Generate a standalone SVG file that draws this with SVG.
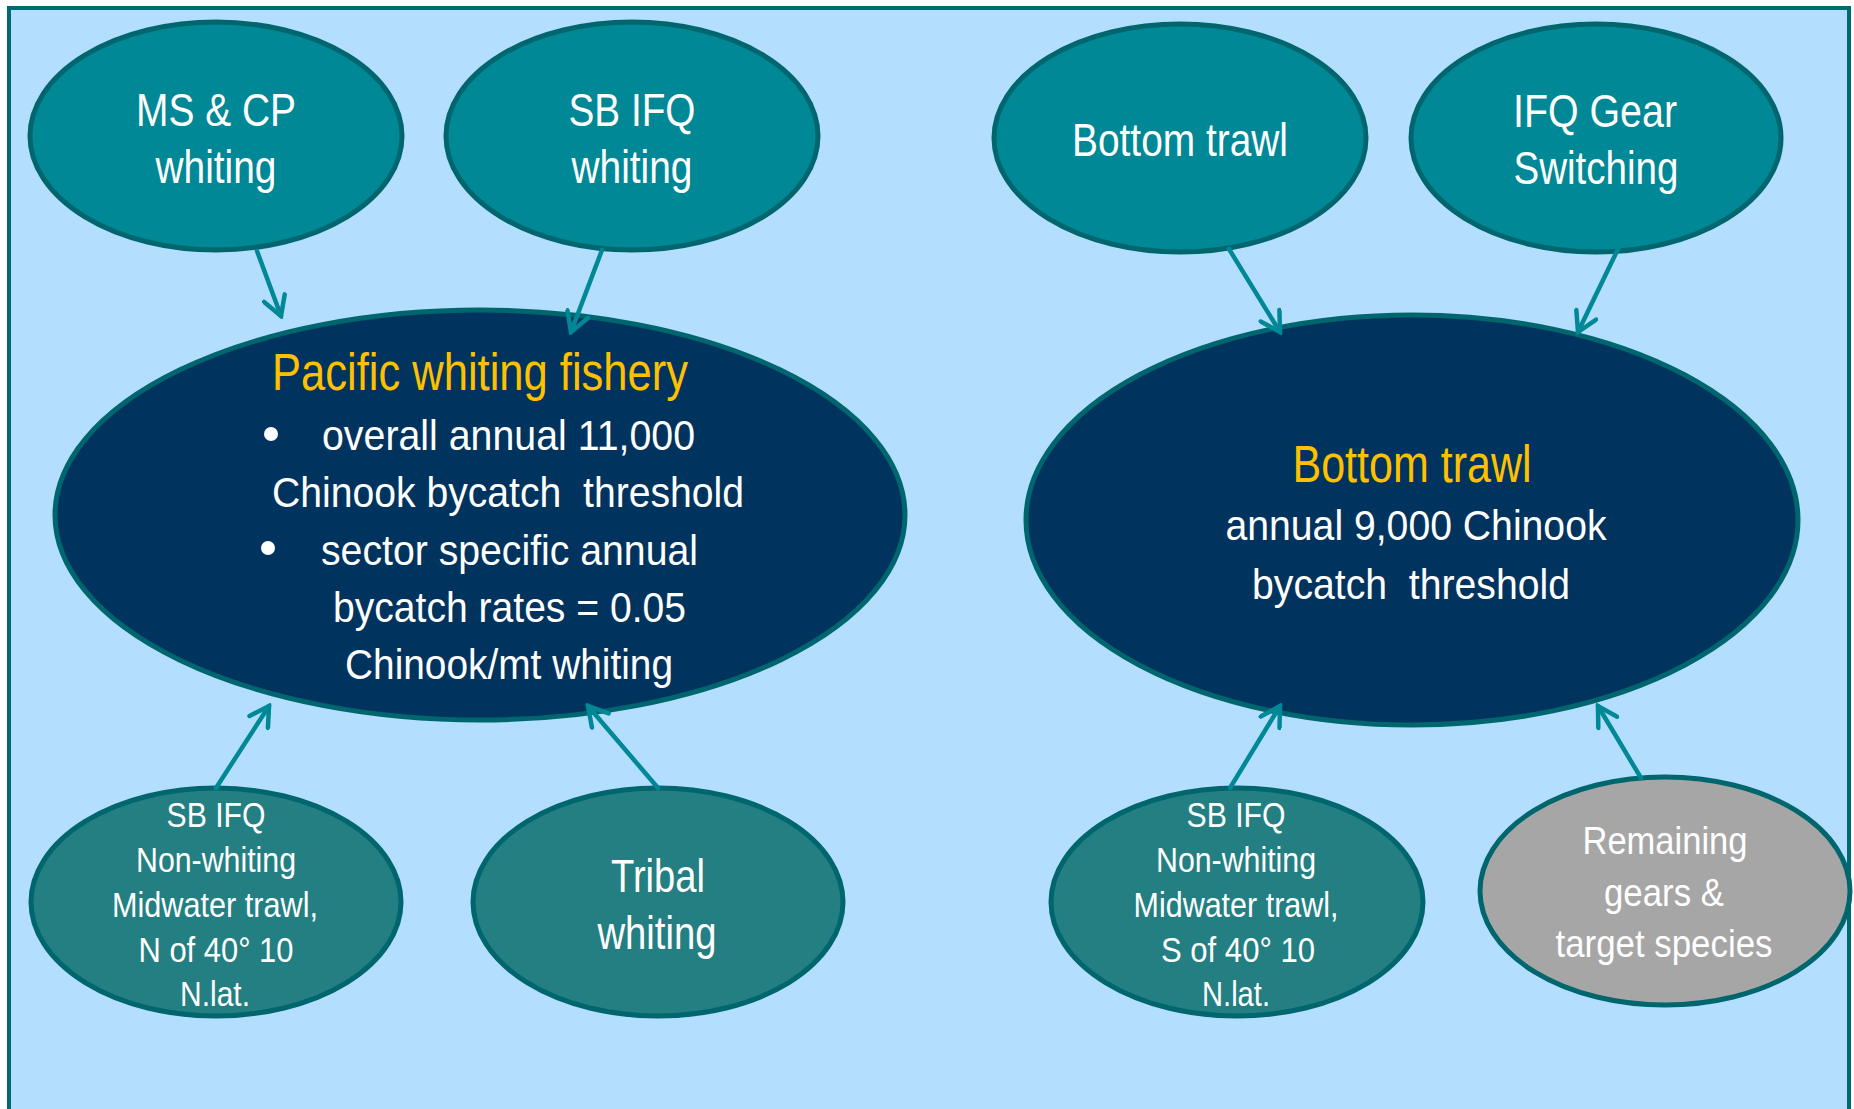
<svg xmlns="http://www.w3.org/2000/svg" width="1854" height="1109" viewBox="0 0 1854 1109">
<style>
  .bg { fill: #B3DEFE; stroke: #006A72; stroke-width: 4; }
  .top { fill: #008896; stroke: #00666E; stroke-width: 5; }
  .low { fill: #237F82; stroke: #00666E; stroke-width: 5; }
  .main { fill: #00345E; stroke: #00666E; stroke-width: 5; }
  .gray { fill: #A6A6A6; stroke: #00666E; stroke-width: 5; }
  text { font-family: "Liberation Sans", Arial, sans-serif; fill: #FFFFFF; }
  .c { text-anchor: middle; }
  .t46 { font-size: 47px; }
  .t50 { font-size: 51px; fill: #FFC000; }
  .t42 { font-size: 42px; }
  .t35 { font-size: 35px; }
  .t39 { font-size: 39px; }
  .conn line { stroke: #008896; stroke-width: 4.5; stroke-linecap: round; marker-end: url(#arr); }
</style>
<defs>
  <marker id="arr" viewBox="0 0 26 26" refX="23" refY="13" markerWidth="26" markerHeight="26" markerUnits="userSpaceOnUse" orient="auto">
    <path d="M4,2 L23,13 L4,24" fill="none" stroke="#008896" stroke-width="4.5" stroke-linecap="round" stroke-linejoin="miter"/>
  </marker>
</defs>
<rect class="bg" x="9" y="8" width="1840" height="1115"/>

<g id="ms-cp-whiting">
  <ellipse class="top" cx="216" cy="136" rx="186" ry="114"/>
  <text class="c t46" x="216" y="126" textLength="160" lengthAdjust="spacingAndGlyphs">MS &amp; CP</text>
  <text class="c t46" x="216" y="183" textLength="121" lengthAdjust="spacingAndGlyphs">whiting</text>
</g>
<g id="sb-ifq-whiting">
  <ellipse class="top" cx="632" cy="136" rx="186" ry="114"/>
  <text class="c t46" x="632" y="126" textLength="127" lengthAdjust="spacingAndGlyphs">SB IFQ</text>
  <text class="c t46" x="632" y="183" textLength="121" lengthAdjust="spacingAndGlyphs">whiting</text>
</g>
<g id="bottom-trawl-top">
  <ellipse class="top" cx="1180" cy="138" rx="186" ry="114"/>
  <text class="c t46" x="1180" y="156" textLength="216" lengthAdjust="spacingAndGlyphs">Bottom trawl</text>
</g>
<g id="ifq-gear-switching">
  <ellipse class="top" cx="1596" cy="138" rx="185" ry="114"/>
  <text class="c t46" x="1595" y="127" textLength="164" lengthAdjust="spacingAndGlyphs">IFQ Gear</text>
  <text class="c t46" x="1596" y="184" textLength="165" lengthAdjust="spacingAndGlyphs">Switching</text>
</g>

<g id="pacific-whiting-fishery">
  <ellipse class="main" cx="480" cy="515" rx="425" ry="205"/>
  <text class="c t50" x="480" y="390" textLength="416" lengthAdjust="spacingAndGlyphs">Pacific whiting fishery</text>
  <circle cx="271" cy="434" r="7" fill="#FFFFFF"/>
  <text class="t42" x="322" y="450" textLength="373" lengthAdjust="spacingAndGlyphs">overall annual 11,000</text>
  <text class="t42" x="272" y="507" textLength="472" lengthAdjust="spacingAndGlyphs" xml:space="preserve">Chinook bycatch  threshold</text>
  <circle cx="268" cy="548" r="7" fill="#FFFFFF"/>
  <text class="t42" x="321" y="565" textLength="377" lengthAdjust="spacingAndGlyphs">sector specific annual</text>
  <text class="t42" x="333" y="622" textLength="353" lengthAdjust="spacingAndGlyphs">bycatch rates = 0.05</text>
  <text class="t42" x="345" y="679" textLength="328" lengthAdjust="spacingAndGlyphs">Chinook/mt whiting</text>
</g>

<g id="bottom-trawl-main">
  <ellipse class="main" cx="1412" cy="520" rx="386" ry="205"/>
  <text class="c t50" x="1412" y="482" textLength="239" lengthAdjust="spacingAndGlyphs">Bottom trawl</text>
  <text class="c t42" x="1416" y="540" textLength="381" lengthAdjust="spacingAndGlyphs">annual 9,000 Chinook</text>
  <text class="c t42" x="1411" y="599" textLength="318" lengthAdjust="spacingAndGlyphs" xml:space="preserve">bycatch  threshold</text>
</g>

<g id="sb-ifq-nonwhiting-n">
  <ellipse class="low" cx="216" cy="902" rx="185" ry="114"/>
  <text class="c t35" x="216" y="827" textLength="99" lengthAdjust="spacingAndGlyphs">SB IFQ</text>
  <text class="c t35" x="216" y="872" textLength="160" lengthAdjust="spacingAndGlyphs">Non-whiting</text>
  <text class="c t35" x="215" y="917" textLength="206" lengthAdjust="spacingAndGlyphs">Midwater trawl,</text>
  <text class="c t35" x="216" y="962" textLength="155" lengthAdjust="spacingAndGlyphs">N of 40° 10</text>
  <text class="c t35" x="215" y="1006" textLength="70" lengthAdjust="spacingAndGlyphs">N.lat.</text>
</g>
<g id="tribal-whiting">
  <ellipse class="low" cx="658" cy="902" rx="185" ry="114"/>
  <text class="c t46" x="658" y="892" textLength="94" lengthAdjust="spacingAndGlyphs">Tribal</text>
  <text class="c t46" x="657" y="949" textLength="119" lengthAdjust="spacingAndGlyphs">whiting</text>
</g>
<g id="sb-ifq-nonwhiting-s">
  <ellipse class="low" cx="1237" cy="902" rx="186" ry="114"/>
  <text class="c t35" x="1236" y="827" textLength="99" lengthAdjust="spacingAndGlyphs">SB IFQ</text>
  <text class="c t35" x="1236" y="872" textLength="160" lengthAdjust="spacingAndGlyphs">Non-whiting</text>
  <text class="c t35" x="1236" y="917" textLength="205" lengthAdjust="spacingAndGlyphs">Midwater trawl,</text>
  <text class="c t35" x="1238" y="962" textLength="154" lengthAdjust="spacingAndGlyphs">S of 40° 10</text>
  <text class="c t35" x="1236" y="1006" textLength="68" lengthAdjust="spacingAndGlyphs">N.lat.</text>
</g>
<g id="remaining-gears">
  <ellipse class="gray" cx="1665" cy="891" rx="185" ry="114"/>
  <text class="c t39" x="1665" y="854" textLength="165" lengthAdjust="spacingAndGlyphs">Remaining</text>
  <text class="c t39" x="1664" y="906" textLength="120" lengthAdjust="spacingAndGlyphs">gears &amp;</text>
  <text class="c t39" x="1664" y="957" textLength="217" lengthAdjust="spacingAndGlyphs">target species</text>
</g>

<g id="connectors" class="conn">
  <line x1="257" y1="251" x2="281" y2="316"/>
  <line x1="602" y1="250" x2="571" y2="332"/>
  <line x1="1229" y1="249" x2="1280" y2="332"/>
  <line x1="1618" y1="249" x2="1578" y2="332"/>
  <line x1="216" y1="788" x2="269" y2="706"/>
  <line x1="658" y1="788" x2="588" y2="706"/>
  <line x1="1230" y1="788" x2="1280" y2="706"/>
  <line x1="1641" y1="778" x2="1598" y2="706"/>
</g>
</svg>
